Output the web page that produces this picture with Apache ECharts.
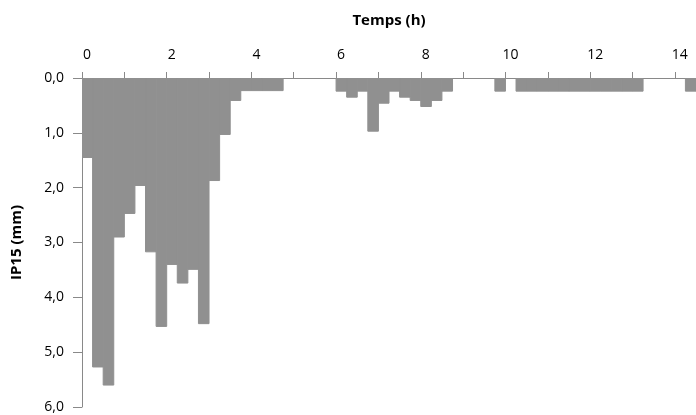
<!DOCTYPE html>
<html>
<head>
<meta charset="utf-8">
<script src="https://cdn.jsdelivr.net/npm/echarts@6/dist/echarts.min.js"></script>
<style>
html,body{margin:0;padding:0;background:#fff;}
#c{width:696px;height:415px;}
</style>
</head>
<body>
<div id="c"></div>
<script>
// Start time (h) of each 15-min interval with rain
const startHours = [0, 0.25, 0.5, 0.75, 1.0, 1.25, 1.5, 1.75, 2.0, 2.25, 2.5, 2.75, 3.0, 3.25, 3.5,
  3.75, 4.0, 4.25, 4.5,
  6.0, 6.25, 6.5, 6.75, 7.0, 7.25, 7.5, 7.75, 8.0, 8.25, 8.5,
  9.75,
  10.25, 10.5, 10.75, 11.0, 11.25, 11.5, 11.75, 12.0, 12.25, 12.5, 12.75, 13.0,
  14.25];
// IP15 (mm)
const ip15 = [1.45, 5.27, 5.6, 2.9, 2.47, 1.96, 3.17, 4.53, 3.4, 3.74, 3.49, 4.48, 1.87, 1.03, 0.41,
  0.23, 0.23, 0.23, 0.23,
  0.24, 0.35, 0.24, 0.97, 0.46, 0.24, 0.35, 0.41, 0.52, 0.41, 0.24,
  0.24,
  0.24, 0.24, 0.24, 0.24, 0.24, 0.24, 0.24, 0.24, 0.24, 0.24, 0.24, 0.24,
  0.24];
const binWidth = 0.25;
const xTitle = 'Temps (h)';
const yTitle = 'IP15 (mm)';

const data = startHours.map((t, i) => [t, ip15[i]]);
const axisGray = '#898989';
const font = '"Open Sans", "Liberation Sans", sans-serif';

const chart = echarts.init(document.getElementById('c'), null, {renderer: 'canvas'});
chart.setOption({
  animation: false,
  grid: {left: 82, right: 0, top: 78, bottom: 8, containLabel: false},
  xAxis: {
    type: 'value', position: 'top', min: 0, max: 14.5, interval: 1,
    name: xTitle, nameLocation: 'middle', nameGap: 50,
    nameTextStyle: {fontFamily: font, fontWeight: 'bold', fontSize: 15, color: '#000'},
    axisLine: {show: true, lineStyle: {color: axisGray, width: 1}},
    axisTick: {show: true, length: 6, lineStyle: {color: axisGray}},
    splitLine: {show: false},
    axisLabel: {
      fontFamily: font, fontSize: 14, color: '#000', margin: 16,
      padding: [0, 0, 0, 10],
      showMaxLabel: false,
      formatter: v => (v % 2 === 0 ? String(v) : '')
    }
  },
  yAxis: {
    type: 'value', inverse: true, min: 0, max: 6, interval: 1,
    name: yTitle, nameLocation: 'middle', nameGap: 58, nameRotate: 90,
    nameTextStyle: {fontFamily: font, fontWeight: 'bold', fontSize: 15, color: '#000'},
    axisLine: {show: true, lineStyle: {color: axisGray, width: 1}},
    axisTick: {show: true, length: 9, lineStyle: {color: axisGray}},
    splitLine: {show: false},
    axisLabel: {
      fontFamily: font, fontSize: 14, color: '#000', margin: 18,
      formatter: v => v.toFixed(1).replace('.', ',')
    }
  },
  series: [{
    type: 'custom',
    data: data,
    encode: {x: 0, y: 1},
    clip: true,
    renderItem: function (params, api) {
      const t = api.value(0), v = api.value(1);
      const p0 = api.coord([t, 0]);
      const p1 = api.coord([t + binWidth, v]);
      return {
        type: 'rect',
        shape: {x: p0[0], y: p0[1], width: p1[0] - p0[0], height: p1[1] - p0[1]},
        style: {fill: '#909090', stroke: '#909090', lineWidth: 1}
      };
    }
  }]
});
</script>
</body>
</html>
